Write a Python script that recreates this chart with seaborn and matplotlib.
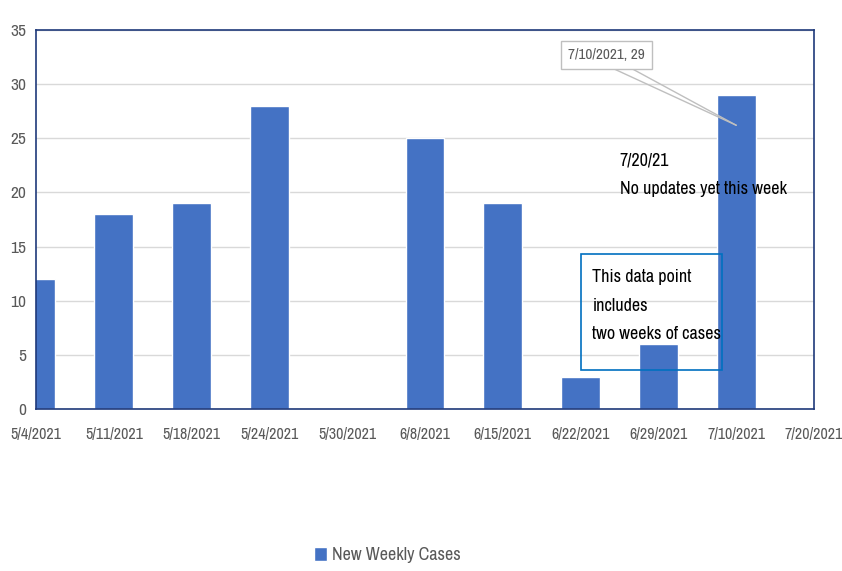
import pandas as pd
import seaborn as sns
import matplotlib.pyplot as plt
from matplotlib import font_manager

dates = ['5/4/2021', '5/11/2021', '5/18/2021', '5/24/2021', '5/30/2021', '6/8/2021',
         '6/15/2021', '6/22/2021', '6/29/2021', '7/10/2021', '7/20/2021']
new_cases = [12, 18, 19, 28, 0, 25, 19, 3, 6, 29, 0]
series_name = 'New Weekly Cases'

df = pd.DataFrame({'Date': dates, series_name: new_cases})

sns.set_theme(style='white')
names = sorted({f.name for f in font_manager.fontManager.ttflist})
narrow = [n for n in names if 'Narrow' in n or 'Condensed' in n]
fam = narrow[0] if narrow else 'DejaVu Sans'
plt.rcParams['font.family'] = [fam, 'DejaVu Sans']
scale = 1.0 if narrow else 0.85

bar_color = '#4472C4'
frame_color = '#1F3A7A'
tick_color = '#595959'
callout_grey = '#BFBFBF'

fig = plt.figure(figsize=(8.42, 5.71), dpi=100)
ax = fig.add_axes([0.0428, 0.2837, 0.9240, 0.6638])

sns.barplot(data=df, x='Date', y=series_name, color=bar_color, width=0.5,
            saturation=1, ax=ax, zorder=3)

ax.set_xlim(0, len(dates) - 1)
ax.set_ylim(0, 35)
ax.set_yticks(range(0, 36, 5))
ax.yaxis.grid(True, color='#D9D9D9', linewidth=1, zorder=0)
ax.set_axisbelow(True)
ax.set_xlabel('')
ax.set_ylabel('')
ax.tick_params(axis='x', colors=tick_color, labelsize=11.5 * scale, length=0, pad=13)
ax.tick_params(axis='y', colors=tick_color, labelsize=12.5 * scale, length=0, pad=7)
for s in ax.spines.values():
    s.set_visible(True)
    s.set_color(frame_color)
    s.set_linewidth(1.2)
    s.set_zorder(4)

# callout for the 7/10 point: two leader lines + boxed label
peak = new_cases[dates.index('7/10/2021')]
for x0 in (7.40, 7.64):
    ax.annotate('', xy=(9, peak - 2.8), xytext=(x0, 31.5),
                arrowprops=dict(arrowstyle='-', color=callout_grey, lw=1,
                                shrinkA=0, shrinkB=0), zorder=5)
ax.text(7.33, 32.7, f'7/10/2021, {peak}', fontsize=11 * scale, color=tick_color,
        ha='center', va='center', zorder=6,
        bbox=dict(boxstyle='square,pad=0.45', fc='white', ec=callout_grey, lw=1))

ax.text(7.5, 23.7, '7/20/21\nNo updates yet this week', fontsize=13 * scale,
        color='black', va='top', ha='left', linespacing=1.95, zorder=6)

ax.text(7.15, 12.9, 'This data point\nincludes\ntwo weeks of cases', fontsize=13 * scale,
        color='black', va='top', ha='left', linespacing=1.95, zorder=6)
box = plt.Rectangle((7.0, 3.6), 1.82, 10.7, fill=False, ec='#0070C0', lw=1.2, zorder=6)
ax.add_patch(box)

fig.legend(handles=ax.patches[:1], labels=[series_name], loc='center',
           bbox_to_anchor=(0.46, 0.028), frameon=False, fontsize=13 * scale,
           handlelength=0.7, handleheight=0.8, handletextpad=0.3,
           labelcolor=tick_color)

plt.savefig('out.png', dpi=100)
